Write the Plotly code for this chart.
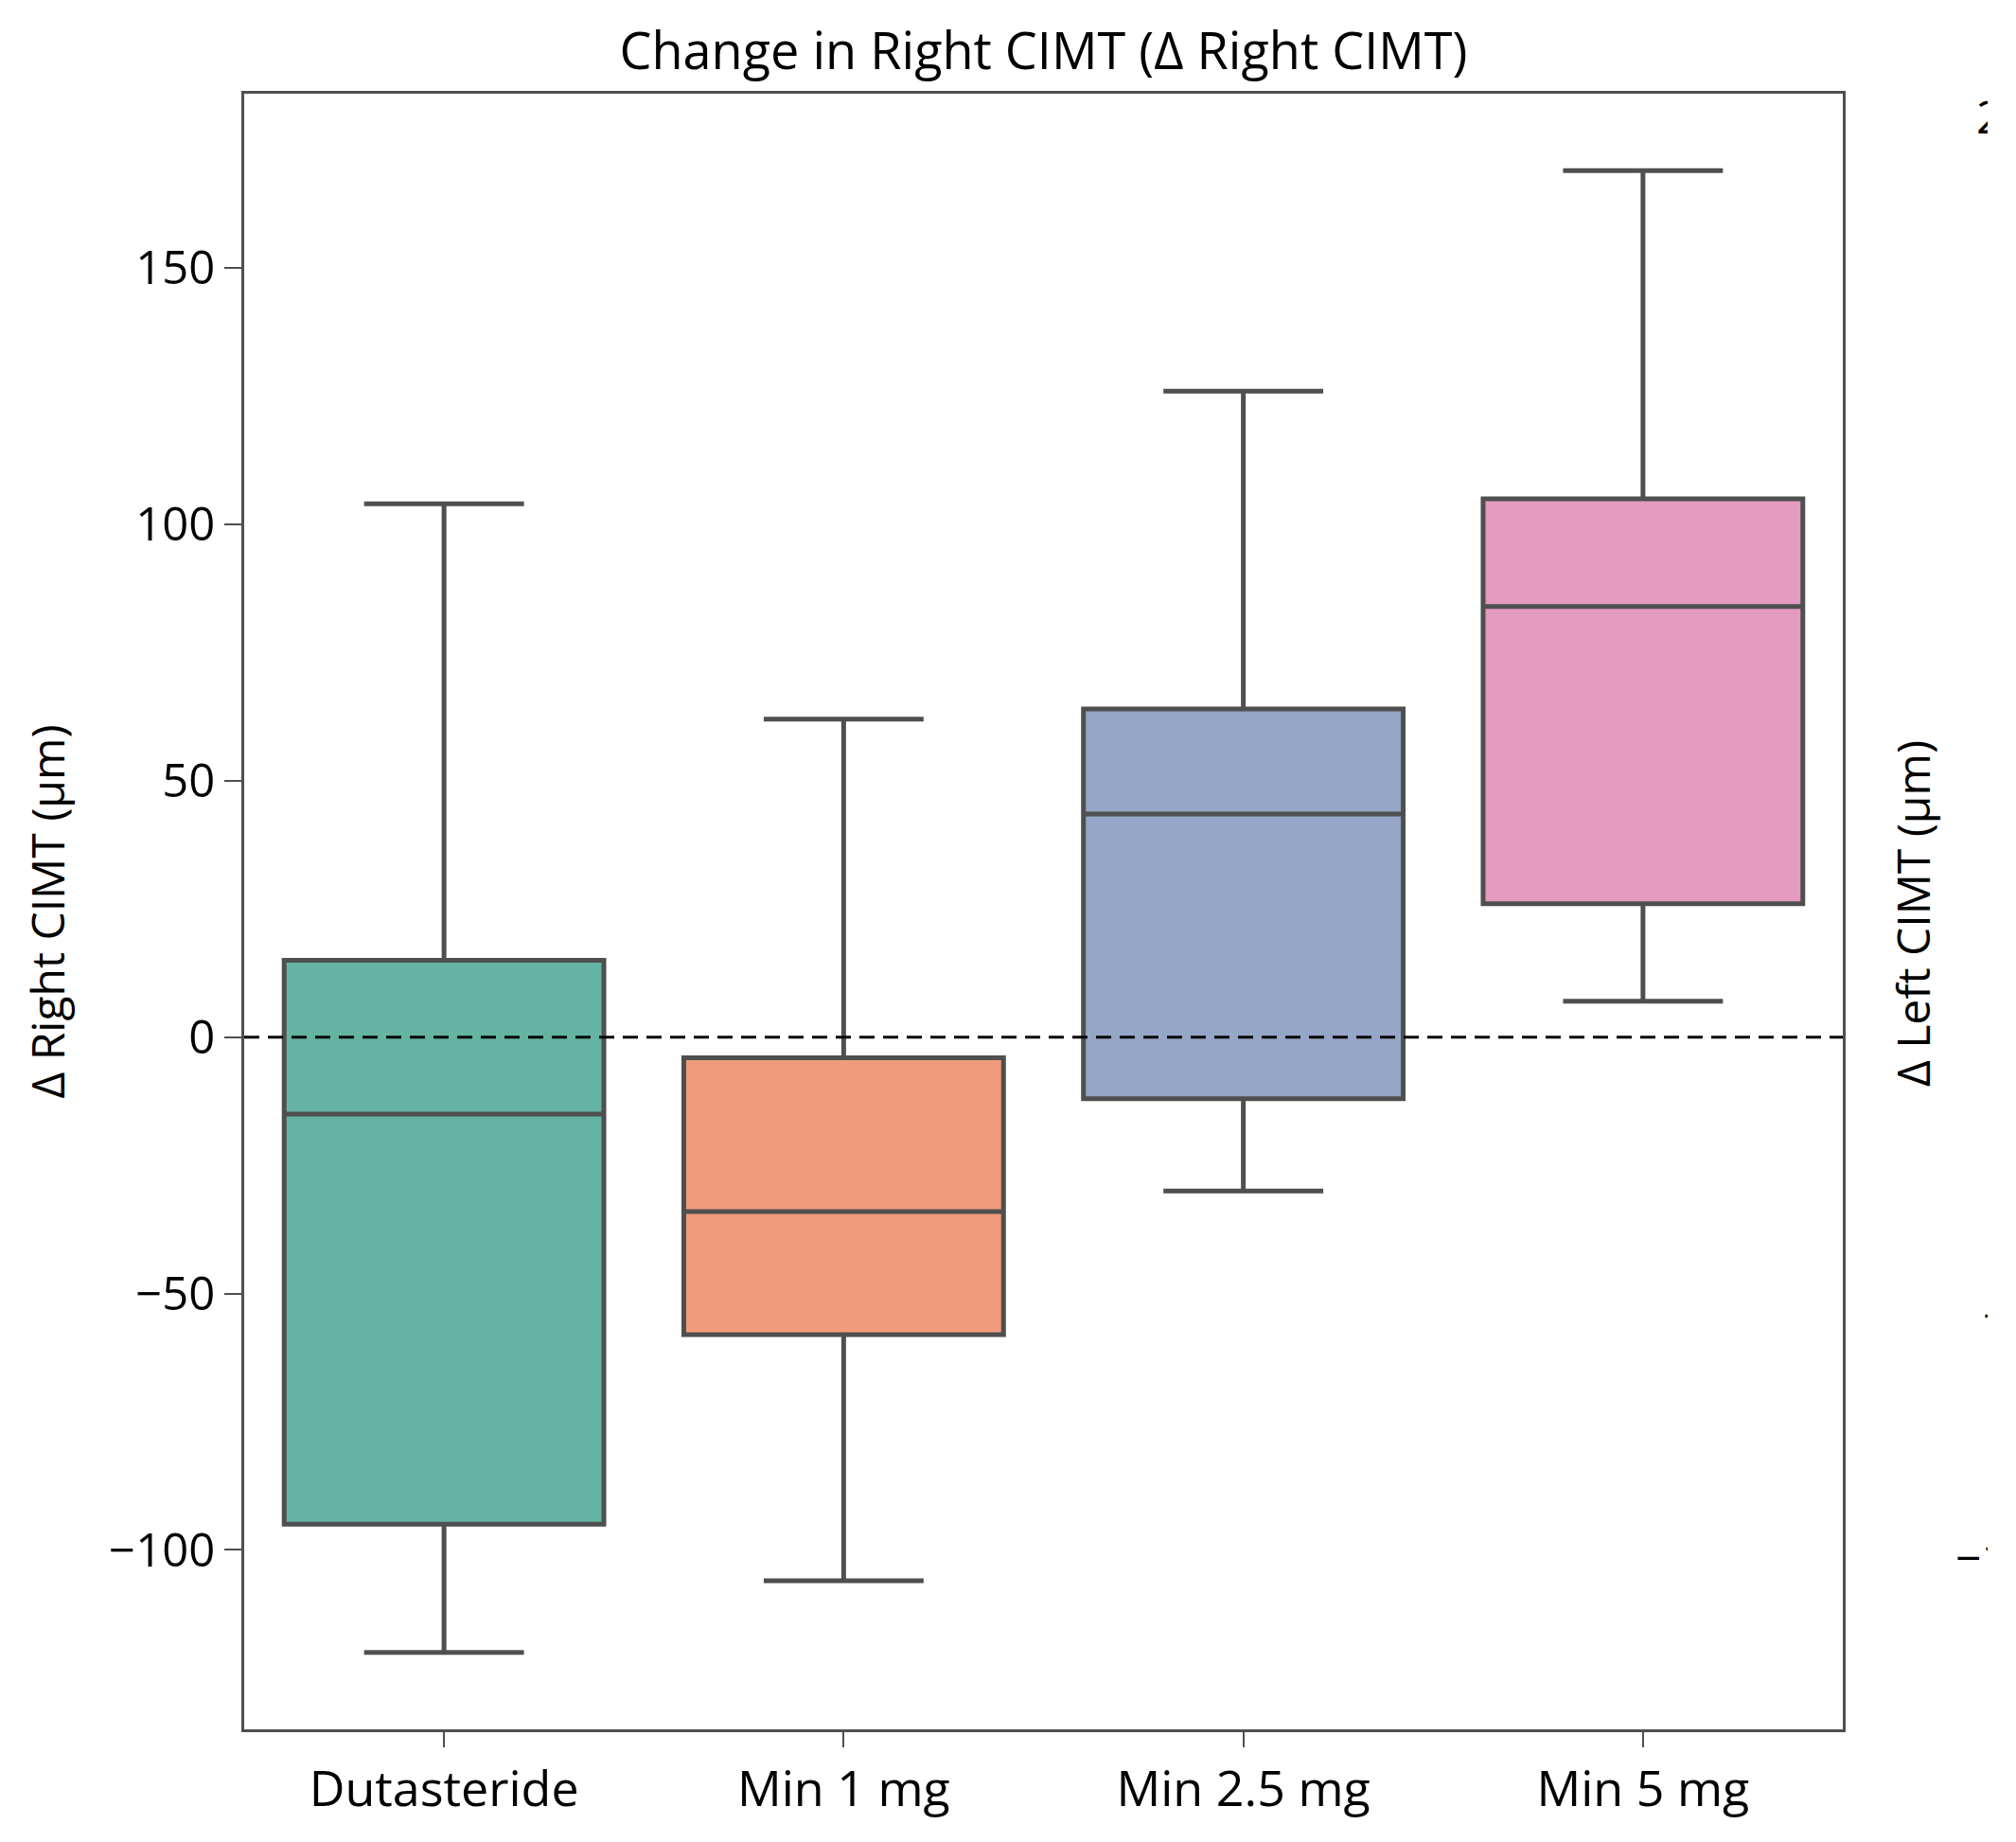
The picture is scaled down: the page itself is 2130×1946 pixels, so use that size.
import plotly.graph_objects as go

categories = ["Dutasteride", "Min 1 mg", "Min 2.5 mg", "Min 5 mg"]
lower_whisker = [-120, -106, -30, 7]
q1_vals = [-95, -58, -12, 26]
median_vals = [-15, -34, 43.5, 84]
q3_vals = [15, -4, 64, 105]
upper_whisker = [104, 62, 126, 169]
colors = ["#65b4a3", "#f09c7c", "#96a6c6", "#e59ac0"]
y_ticks = [-100, -50, 0, 50, 100, 150]

FONT = "Open Sans"
LINE = "#4f4f4f"

fig = go.Figure()
for i, cat in enumerate(categories):
    fig.add_trace(go.Box(
        x=[cat],
        q1=[q1_vals[i]], median=[median_vals[i]], q3=[q3_vals[i]],
        lowerfence=[lower_whisker[i]], upperfence=[upper_whisker[i]],
        width=0.8,
        fillcolor=colors[i],
        line=dict(color=LINE, width=5),
        whiskerwidth=0.5,
        boxpoints=False,
        showlegend=False,
        hoverinfo="skip",
    ))

fig.add_hline(y=0, line=dict(color="black", width=3, dash="16px,9px"), layer="above")

W, H = 2100, 1946
L, T, B = 258, 99, 119
R = W - 1947
pw = W - L - R

def px_to_paper_x(px):
    return (px - L) / pw

def px_to_paper_y(py):
    return 1 - (py - T) / (H - T - B)

fig.update_layout(
    width=W, height=H,
    margin=dict(l=L, r=R, t=T, b=B),
    paper_bgcolor="white", plot_bgcolor="white",
    boxmode="overlay",
    font=dict(family=FONT, color="black", size=46),
    title=dict(text="Change in Right CIMT (Δ Right CIMT)", x=(L + pw / 2) / W, xanchor="center",
               y=1 - 54 / H, yanchor="middle", font=dict(size=54, family=FONT, color="black")),
    xaxis=dict(
        type="category", categoryorder="array", categoryarray=categories,
        range=[-0.5, 3.5],
        showline=True, linecolor=LINE, linewidth=3, mirror=True,
        ticks="outside", ticklen=16, tickwidth=2, tickcolor=LINE,
        tickfont=dict(size=52, family=FONT, color="black"),
        showgrid=False, zeroline=False,
    ),
    yaxis=dict(
        range=[-135, 184],
        tickvals=y_ticks,
        showline=True, linecolor=LINE, linewidth=3, mirror=True,
        ticks="outside", ticklen=18, tickwidth=2, tickcolor=LINE,
        tickfont=dict(size=49, family=FONT, color="black"),
        showgrid=False, zeroline=False,
        title=dict(text="Δ Right CIMT (μm)", font=dict(size=48, family=FONT, color="black"), standoff=32),
    ),
)

# Partially visible neighbouring panel on the right edge (clipped by the figure edge)
fig.add_annotation(text="Δ Left CIMT (μm)", xref="paper", yref="paper",
                   x=px_to_paper_x(2020), y=px_to_paper_y(965),
                   textangle=-90, showarrow=False, xanchor="center", yanchor="middle",
                   font=dict(size=48, family=FONT, color="black"))
for txt, ypx, xpx in [("200", 122, 2086), ("−50", 1388, 2093), ("−100", 1644, 2064)]:
    fig.add_annotation(text=txt, xref="paper", yref="paper",
                       x=px_to_paper_x(xpx), y=px_to_paper_y(ypx),
                       showarrow=False, xanchor="left", yanchor="middle",
                       font=dict(size=48, family=FONT, color="black"))

fig.write_html("out.html")
